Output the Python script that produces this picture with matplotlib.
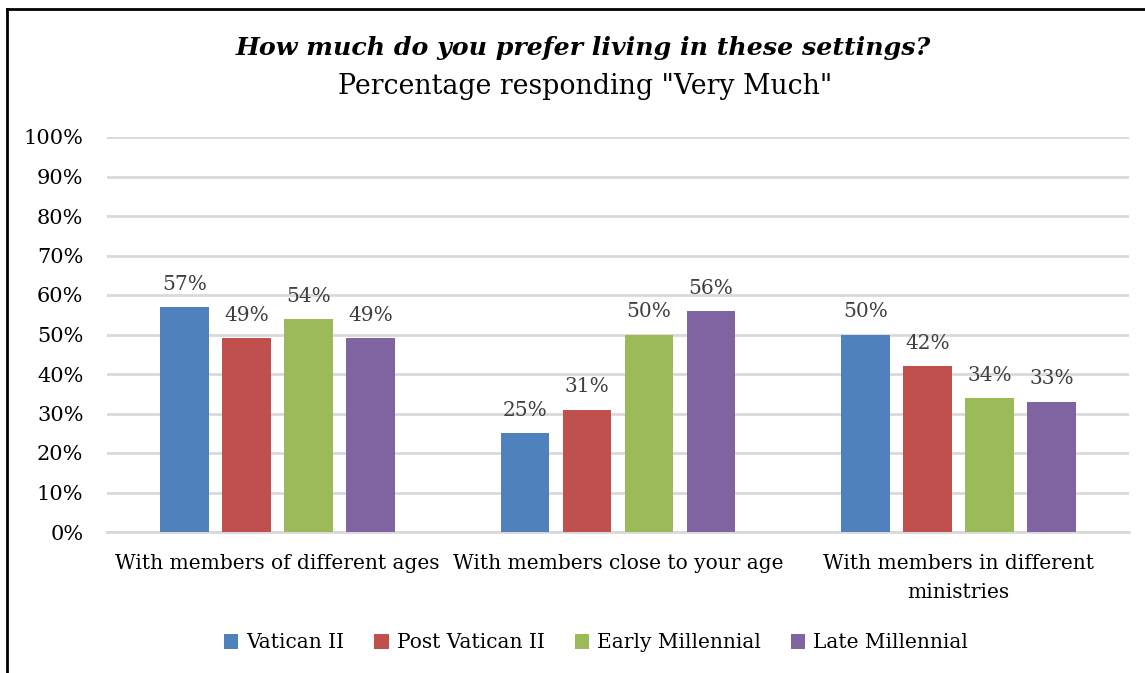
import numpy as np
import matplotlib.pyplot as plt
from matplotlib.lines import Line2D

# --- dados ---
categorias = ['With members of different ages', 'With members close to your age',
              'With members in different\nministries']
series = ['Vatican II', 'Post Vatican II', 'Early Millennial', 'Late Millennial']
vatican_ii = [57, 25, 50]
post_vatican_ii = [49, 31, 42]
early_millennial = [54, 50, 34]
late_millennial = [49, 56, 33]
valores = [vatican_ii, post_vatican_ii, early_millennial, late_millennial]
cores = ['#4F81BD', '#C0504D', '#9BBB59', '#8064A2']

plt.rcParams['font.family'] = ['DejaVu Serif']

W, H = 1145, 673
fig = plt.figure(figsize=(W / 100, H / 100), dpi=100)
ax = fig.add_axes([107 / W, (H - 532) / H, (1129 - 107) / W, (532 - 137) / H])

x = np.arange(len(categorias))
passo = 0.182
largura = 0.143
for i, (nome, vals, cor) in enumerate(zip(series, valores, cores)):
    pos = x + (i - 1.5) * passo
    barras = ax.bar(pos, vals, width=largura, color=cor, label=nome, zorder=3)
    for b, v in zip(barras, vals):
        ax.annotate(f'{v}%', (b.get_x() + b.get_width() / 2, v), xytext=(0, 9.5),
                    textcoords='offset points', ha='center', va='bottom',
                    fontsize=14.5, color='#404040')

ax.set_xlim(-0.5, 2.5)
ax.set_ylim(0, 100)
ax.set_yticks(range(0, 101, 10))
ax.set_yticklabels([f'{t}%' for t in range(0, 101, 10)], fontsize=15)
ax.set_xticks(x)
ax.set_xticklabels(categorias, fontsize=14.5, linespacing=1.65)
ax.tick_params(axis='both', length=0)
ax.tick_params(axis='y', pad=17)
ax.tick_params(axis='x', pad=16)
ax.grid(axis='y', color='#D9D9D9', linewidth=2, zorder=0)
for s in ['top', 'right', 'left']:
    ax.spines[s].set_visible(False)
ax.spines['bottom'].set_color('#D9D9D9')
ax.spines['bottom'].set_linewidth(2)

fig.text(583 / W, (H - 48) / H, 'How much do you prefer living in these settings?',
         ha='center', va='center', fontsize=18.2, fontweight='bold', style='italic')
fig.text(585 / W, (H - 86) / H, 'Percentage responding "Very Much"',
         ha='center', va='center', fontsize=19.3)

ax.legend(loc='center', bbox_to_anchor=(596 / W, (H - 643) / H),
          bbox_transform=fig.transFigure, ncol=4, frameon=False, fontsize=14.5,
          handlelength=0.7, handleheight=0.7, handletextpad=0.4, columnspacing=1.5)

# moldura
fig.add_artist(Line2D([7 / W, 7 / W], [0, (H - 9) / H], color='black', linewidth=2,
                      transform=fig.transFigure))
fig.add_artist(Line2D([7 / W, 1], [(H - 9) / H, (H - 9) / H], color='black', linewidth=2,
                      transform=fig.transFigure))

fig.savefig('out.png', dpi=100)
